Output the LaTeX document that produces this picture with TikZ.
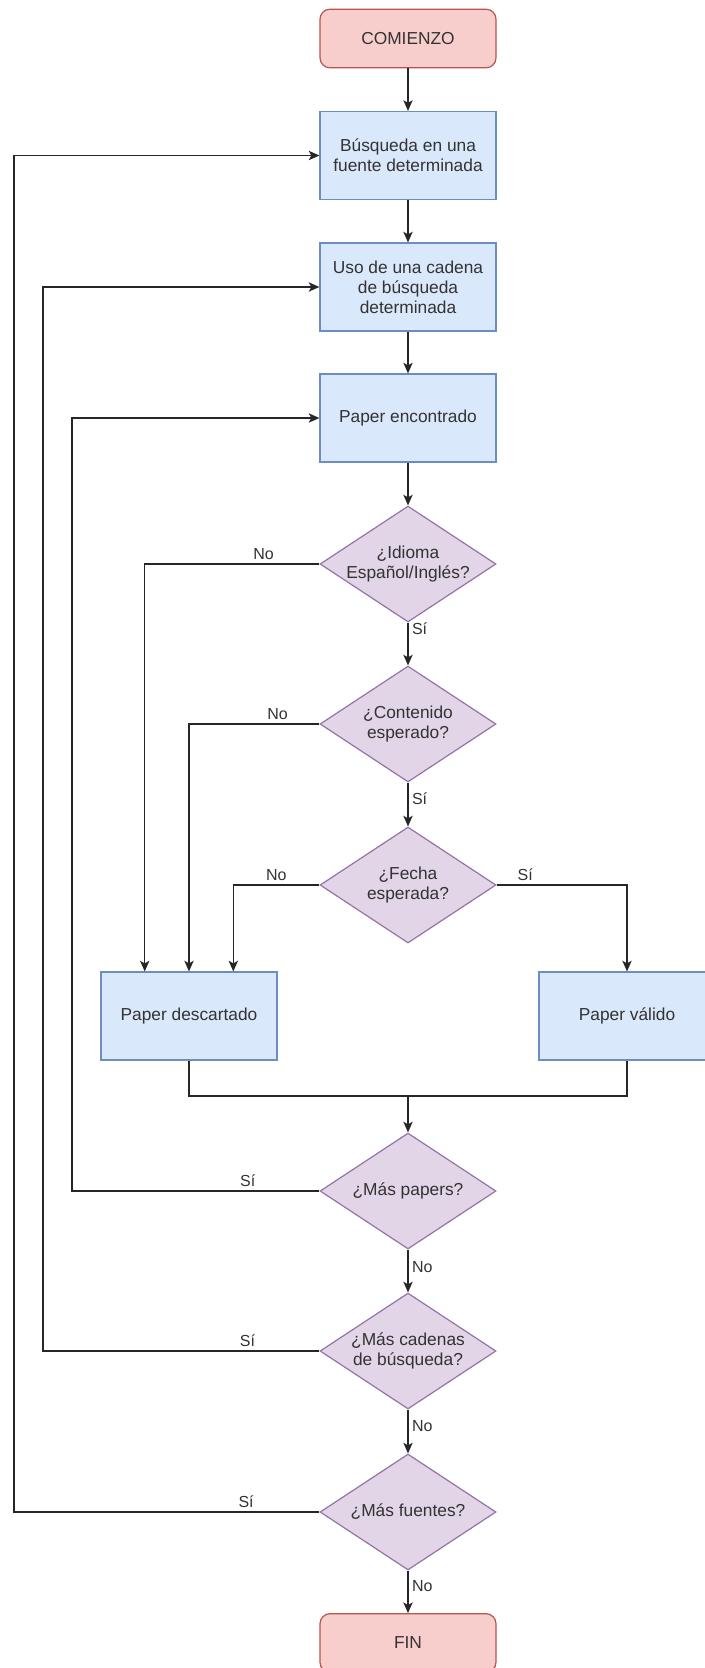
\documentclass[tikz,border=0pt]{standalone}
\usepackage{fontspec}
\setmainfont{Liberation Sans}
\usetikzlibrary{arrows.meta,calc,shapes.geometric}
\definecolor{rojoFondo}{HTML}{F8CECC}
\definecolor{rojoBorde}{HTML}{B85450}
\definecolor{azulFondo}{HTML}{DAE8FC}
\definecolor{azulBorde}{HTML}{6C8EBF}
\definecolor{lilaFondo}{HTML}{E1D5E7}
\definecolor{lilaBorde}{HTML}{9673A6}
\tikzset{
	terminal/.style={rectangle, rounded corners=7.5pt, draw=rojoBorde, fill=rojoFondo, line width=0.9pt,
		minimum width=132pt, minimum height=44pt, font=\fontsize{13}{15}\selectfont, text=black!80},
	proceso/.style={rectangle, draw=azulBorde, fill=azulFondo, line width=0.9pt, align=center,
		minimum width=132pt, minimum height=66pt, font=\fontsize{13}{15}\selectfont, text=black!80},
	decision/.style={diamond, draw=lilaBorde, fill=lilaFondo, line width=0.9pt, inner sep=0pt,
		minimum width=132pt, minimum height=87pt},
	pregunta/.style={align=center, font=\fontsize{13}{15}\selectfont, text=black!80},
	etiqueta/.style={font=\fontsize{12}{14}\selectfont, text=black!80, inner sep=2.5pt},
	linea/.style={line width=1pt, draw=black!85},
	flecha/.style={linea, -{Stealth[length=8pt,width=7pt,inset=2pt]}},
}

\begin{document}
\begin{tikzpicture}[x=0.75pt, y=-0.75pt]
	%%%%% START %%%%%
	\useasboundingbox (0,0) rectangle (704,1668);
	
	\node[terminal] (comienzo) at (408,38.5) {COMIENZO};
	\node[proceso] (fuente) at (408,155.5) {Búsqueda en una\\fuente determinada};
	\node[proceso] (cadena) at (408,287) {Uso de una cadena\\de búsqueda\\determinada};
	\node[proceso] (encontrado) at (408,418) {Paper encontrado};
	
	\node[decision, label={[pregunta]center:{¿Idioma\\Español/Inglés?}}] (idioma) at (408,564) {};
	\node[decision, label={[pregunta]center:{¿Contenido\\esperado?}}] (contenido) at (408,724) {};
	\node[decision, label={[pregunta]center:{¿Fecha\\esperada?}}] (fecha) at (408,885) {};
	
	\node[proceso] (descartado) at (189,1016) {Paper descartado};
	\node[proceso] (valido) at (627,1016) {Paper válido};
	
	\node[decision, label={[pregunta]center:{¿Más papers?}}] (maspapers) at (408,1191) {};
	\node[decision, label={[pregunta]center:{¿Más cadenas\\de búsqueda?}}] (mascadenas) at (408,1351) {};
	\node[decision, label={[pregunta]center:{¿Más fuentes?}}] (masfuentes) at (408,1512) {};
	
	\node[terminal] (fin) at (408,1643) {FIN};
	
	% columnas de retorno y punto de union
	\coordinate (retornoFuente) at (14,0);
	\coordinate (retornoCadena) at (43,0);
	\coordinate (retornoPaper) at (72,0);
	\coordinate (union) at (408,1096);
	
	% camino principal
	\draw[flecha] (comienzo) -- (fuente);
	\draw[flecha] (fuente) -- (cadena);
	\draw[flecha] (cadena) -- (encontrado);
	\draw[flecha] (encontrado) -- (idioma);
	\draw[flecha] (idioma) -- node[etiqueta, pos=0.14, right] {Sí} (contenido);
	\draw[flecha] (contenido) -- node[etiqueta, pos=0.36, right] {Sí} (fecha);
	
	% descartes
	\draw[flecha] (idioma.west) -| node[etiqueta, pos=0.16, above] {No} ($(descartado.north west)!0.25!(descartado.north east)$);
	\draw[flecha] (contenido.west) -| node[etiqueta, pos=0.16, above] {No} (descartado.north);
	\draw[flecha] (fecha.west) -| node[etiqueta, pos=0.25, above] {No} ($(descartado.north west)!0.75!(descartado.north east)$);
	\draw[flecha] (fecha.east) -| node[etiqueta, pos=0.11, above] {Sí} (valido.north);
	
	\draw[linea] (descartado.south) |- (union) -| (valido.south);
	\draw[flecha] (union) -- (maspapers);
	
	\draw[flecha] (maspapers) -- node[etiqueta, pos=0.4, right] {No} (mascadenas);
	\draw[flecha] (mascadenas) -- node[etiqueta, pos=0.38, right] {No} (masfuentes);
	\draw[flecha] (masfuentes) -- node[etiqueta, pos=0.37, right] {No} (fin);
	
	% bucles
	\draw[flecha] (maspapers.west) -- node[etiqueta, pos=0.29, above] {Sí} (maspapers.west -| retornoPaper) -- (encontrado.west -| retornoPaper) -- (encontrado.west);
	\draw[flecha] (mascadenas.west) -- node[etiqueta, pos=0.26, above] {Sí} (mascadenas.west -| retornoCadena) -- (cadena.west -| retornoCadena) -- (cadena.west);
	\draw[flecha] (masfuentes.west) -- node[etiqueta, pos=0.24, above] {Sí} (masfuentes.west -| retornoFuente) -- (fuente.west -| retornoFuente) -- (fuente.west);
	
	%%%%% END %%%%%
\end{tikzpicture}
\end{document}
